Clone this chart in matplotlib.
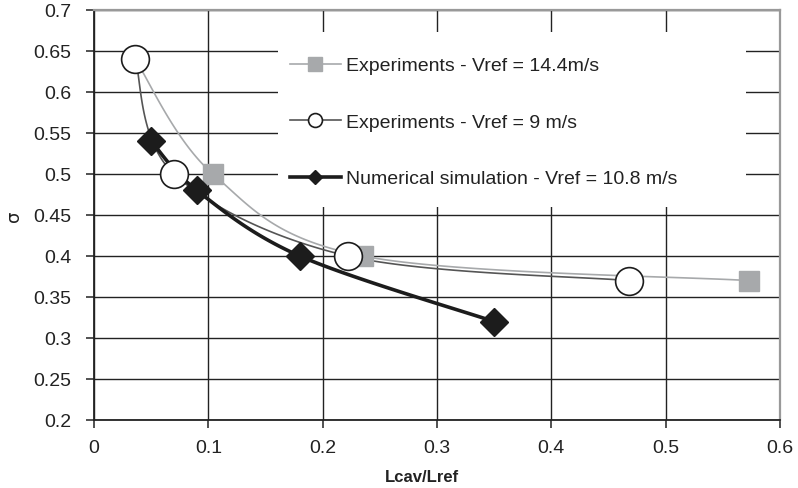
import numpy as np
import matplotlib
matplotlib.use("Agg")
import matplotlib.pyplot as plt
from matplotlib.lines import Line2D
from matplotlib.patches import Rectangle

plt.rcParams['font.family'] = ['Liberation Sans', 'DejaVu Sans']

# ---- data ----
exp144_x = [0.036, 0.104, 0.235, 0.573]
exp144_y = [0.64, 0.50, 0.40, 0.37]
exp9_x = [0.036, 0.070, 0.222, 0.468]
exp9_y = [0.64, 0.50, 0.40, 0.37]
num_x = [0.050, 0.090, 0.180, 0.350]
num_y = [0.54, 0.48, 0.40, 0.32]
labels = ["Experiments - Vref = 14.4m/s",
          "Experiments - Vref = 9 m/s",
          "Numerical simulation - Vref = 10.8 m/s"]
xticks = [0, 0.1, 0.2, 0.3, 0.4, 0.5, 0.6]
xticklabels = ["0", "0.1", "0.2", "0.3", "0.4", "0.5", "0.6"]
yticks = [0.2, 0.25, 0.3, 0.35, 0.4, 0.45, 0.5, 0.55, 0.6, 0.65, 0.7]
yticklabels = ["0.2", "0.25", "0.3", "0.35", "0.4", "0.45", "0.5", "0.55", "0.6", "0.65", "0.7"]


def smooth(xs, ys, n=40):
    """Excel-like smoothed line: cubic Bezier with Catmull-Rom control points."""
    P = np.column_stack([xs, ys]).astype(float)
    m = len(P)
    out = [P[0]]
    t = np.linspace(0, 1, n)[1:, None]
    for i in range(m - 1):
        p0, p3 = P[i], P[i + 1]
        prev = P[i - 1] if i > 0 else P[i]
        nxt = P[i + 2] if i + 2 < m else P[i + 1]
        c1 = p0 + (p3 - prev) / 6.0
        c2 = p3 - (nxt - p0) / 6.0
        seg = ((1 - t) ** 3) * p0 + 3 * ((1 - t) ** 2) * t * c1 + 3 * (1 - t) * t ** 2 * c2 + t ** 3 * p3
        out.extend(seg)
    out = np.array(out)
    return out[:, 0], out[:, 1]


fig = plt.figure(figsize=(7.98, 4.89), dpi=100)
ax = fig.add_axes([94 / 798, 1 - 421 / 489, 686 / 798, 410 / 489])

light = '#a7a9ab'
dark = '#555555'
black = '#1c1c1c'

# lines
sx, sy = smooth(exp144_x, exp144_y)
ax.plot(sx, sy, color=light, lw=1.2, zorder=3, solid_capstyle='round')
sx, sy = smooth(exp9_x, exp9_y)
ax.plot(sx, sy, color=dark, lw=1.2, zorder=3, solid_capstyle='round')
sx, sy = smooth(num_x, num_y)
ax.plot(sx, sy, color=black, lw=2.6, zorder=3.5, solid_capstyle='round')

# markers
ax.plot(exp144_x, exp144_y, ls='none', marker='s', ms=14.5, mfc=light, mec=light, zorder=4)
ax.plot(exp9_x, exp9_y, ls='none', marker='o', ms=20, mfc='white', mec=black, mew=1.2, zorder=5)
ax.plot(num_x, num_y, ls='none', marker='D', ms=14, mfc=black, mec=black, zorder=6)

ax.set_xlim(0, 0.6)
ax.set_ylim(0.2, 0.7)
ax.set_xticks(xticks)
ax.set_xticklabels(xticklabels)
ax.set_yticks(yticks)
ax.set_yticklabels(yticklabels)
ax.tick_params(axis='both', direction='out', length=5.5, width=1.1, color='#222222',
               labelsize=14, labelcolor='#222222')
ax.tick_params(axis='y', pad=11)
ax.tick_params(axis='x', pad=8.5)
ax.grid(True, color='#222222', lw=1.0)
ax.set_axisbelow(True)

for s in ['left', 'bottom']:
    ax.spines[s].set_color('#222222')
    ax.spines[s].set_linewidth(1.3)
for s in ['top', 'right']:
    ax.spines[s].set_color('#999999')
    ax.spines[s].set_linewidth(1.6)

ax.set_xlabel("Lcav/Lref", fontsize=12, fontweight='bold', color='#222222')
ax.xaxis.set_label_coords((422 - 94) / 686, -0.12)
ax.set_ylabel("σ", fontsize=13, color='#222222', family=['DejaVu Sans'])
ax.yaxis.set_label_coords(-0.104, 0.5)

# legend background
ax.add_patch(Rectangle((0.268, 0.520), 0.682, 0.426, transform=ax.transAxes,
                       facecolor='white', edgecolor='none', zorder=2.5))

handles = [
    Line2D([], [], color=light, lw=1.2, marker='s', ms=10.5, mfc=light, mec=light),
    Line2D([], [], color=dark, lw=1.2, marker='o', ms=10, mfc='white', mec=black, mew=1.2),
    Line2D([], [], color=black, lw=2.6, marker='D', ms=7.5, mfc=black, mec=black),
]
leg = ax.legend(handles, labels, loc='center left', bbox_to_anchor=((290 - 94) / 686, (421 - 123) / 410),
                frameon=False, fontsize=14, handlelength=2.6, handletextpad=0.3,
                labelspacing=2.0, borderpad=0, borderaxespad=0)
for t in leg.get_texts():
    t.set_color('#222222')
leg.set_zorder(7)

fig.savefig("out.png", dpi=100)
